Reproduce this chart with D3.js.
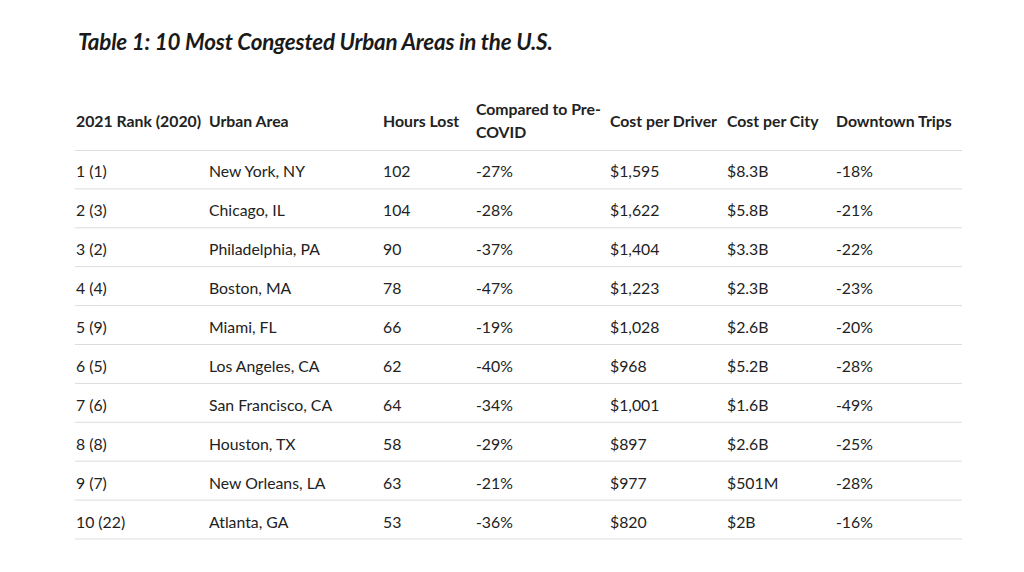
<!DOCTYPE html>
<html><head><meta charset="utf-8">
<script src="https://cdn.jsdelivr.net/npm/d3@7"></script>
<style>
html,body{margin:0;padding:0;background:#fff;}
svg{display:block;font-family:Lato,"Open Sans",sans-serif;}
</style></head>
<body>
<svg id="chart" width="1024" height="572"></svg>
<script>
const title = "Table 1: 10 Most Congested Urban Areas in the U.S.";
const headers = [["2021 Rank (2020)"],["Urban Area"],["Hours Lost"],["Compared to Pre-","COVID"],["Cost per Driver"],["Cost per City"],["Downtown Trips"]];
const ranks = ["1 (1)","2 (3)","3 (2)","4 (4)","5 (9)","6 (5)","7 (6)","8 (8)","9 (7)","10 (22)"];
const areas = ["New York, NY","Chicago, IL","Philadelphia, PA","Boston, MA","Miami, FL","Los Angeles, CA","San Francisco, CA","Houston, TX","New Orleans, LA","Atlanta, GA"];
const hoursLost = [102,104,90,78,66,62,64,58,63,53];
const vsPreCovid = [-27,-28,-37,-47,-19,-40,-34,-29,-21,-36];
const costPerDriver = [1595,1622,1404,1223,1028,968,1001,897,977,820];
const costPerCity = ["$8.3B","$5.8B","$3.3B","$2.3B","$2.6B","$5.2B","$1.6B","$2.6B","$501M","$2B"];
const downtownTrips = [-18,-21,-22,-23,-20,-28,-49,-25,-28,-16];

const svg = d3.select("#chart");
const colX = [76,209,383,476,610,727,836];
const left = 75, right = 962;

svg.append("text").attr("x",78).attr("y",50)
  .attr("font-size",22.4).attr("font-weight",700).attr("font-style","italic")
  .attr("fill","#1a1a1a").attr("letter-spacing","-0.2").text(title);

// header
headers.forEach((h,i)=>{
  const t = svg.append("text").attr("x",colX[i]).attr("font-size",15.8).attr("font-weight",700).attr("fill","#222");
  if(h.length===1){ t.attr("y",127).text(h[0]); }
  else { h.forEach((line,j)=>t.append("tspan").attr("x",colX[i]).attr("y",115+j*23).text(line)); }
});

const y = d3.scaleBand().domain(d3.range(ranks.length)).range([150,539]);
const pct = v => String(v)+"%";
const money = v => "$"+d3.format(",")(v);
const rows = ranks.map((r,i)=>[r,areas[i],String(hoursLost[i]),pct(vsPreCovid[i]),money(costPerDriver[i]),costPerCity[i],pct(downtownTrips[i])]);

svg.append("line").attr("x1",left).attr("x2",right).attr("y1",150.5).attr("y2",150.5).attr("stroke","#dcdcdc");

const g = svg.selectAll("g.row").data(rows).join("g").attr("class","row")
  .attr("transform",(d,i)=>`translate(0,${y(i)})`);
g.append("line").attr("x1",left).attr("x2",right)
  .attr("y1",y.bandwidth()).attr("y2",y.bandwidth()).attr("stroke","#dcdcdc");
g.selectAll("text").data(d=>d).join("text")
  .attr("x",(d,i)=>colX[i]).attr("y",y.bandwidth()/2+8)
  .attr("font-size",15.8).attr("fill","#222").text(d=>d);
</script>
</body></html>
